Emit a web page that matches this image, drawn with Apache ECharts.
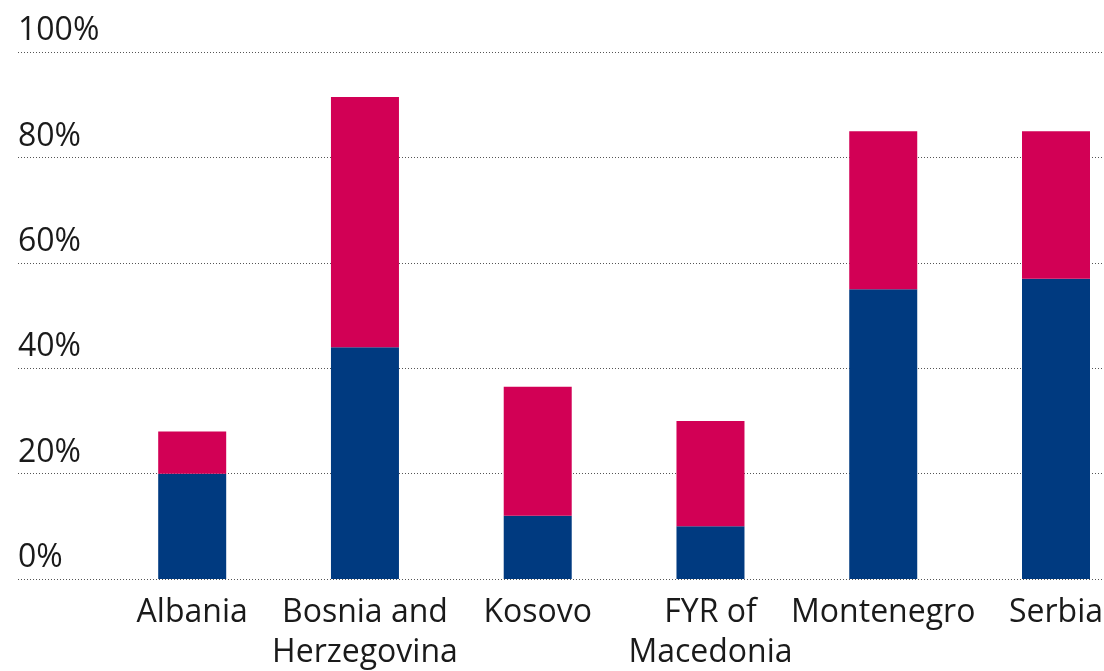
<!DOCTYPE html>
<html>
<head>
<meta charset="utf-8">
<script src="https://cdn.jsdelivr.net/npm/echarts@6/dist/echarts.min.js"></script>
<style>
html,body{margin:0;padding:0;background:#fff;}
#chart{width:1104px;height:671px;}
</style>
</head>
<body>
<div id="chart"></div>
<script>
var categories = ['Albania', 'Bosnia and\nHerzegovina', 'Kosovo', 'FYR of\nMacedonia', 'Montenegro', 'Serbia'];
var blueValues = [20, 44, 12, 10, 55, 57];
var redValues = [8, 47.5, 24.5, 20, 30, 28];
var yTicks = [0, 20, 40, 60, 80, 100];

var FONT = '"Open Sans", "Noto Sans", sans-serif';
var chart = echarts.init(document.getElementById('chart'), null, {renderer: 'canvas'});
chart.setOption({
  animation: false,
  backgroundColor: '#ffffff',
  grid: [
    {left: 18, right: 0, top: 52.3, bottom: 92, containLabel: false, outerBoundsMode: 'none'},
    {left: 192.2, right: 48, top: 52.3, bottom: 92, containLabel: false, outerBoundsMode: 'none'}
  ],
  xAxis: [
    {gridIndex: 0, type: 'value', show: false, min: 0, max: 1},
    {gridIndex: 1, type: 'category', data: categories, boundaryGap: false,
     axisLine: {show: false}, axisTick: {show: false}, splitLine: {show: false},
     axisLabel: {color: '#1a1a1a', fontFamily: FONT, fontSize: 32, lineHeight: 40, margin: 14, interval: 0}}
  ],
  yAxis: [
    {gridIndex: 0, type: 'value', min: yTicks[0], max: yTicks[yTicks.length - 1], interval: 20,
     axisLine: {show: false}, axisTick: {show: false},
     splitLine: {show: true, lineStyle: {color: '#555555', type: [1, 2], width: 1}},
     axisLabel: {inside: true, margin: 0, align: 'left', verticalAlign: 'bottom',
       color: '#1a1a1a', fontFamily: FONT, fontSize: 32, lineHeight: 32, padding: [0, 0, 5, 0],
       formatter: function (v) { return v + '%'; }}},
    {gridIndex: 1, type: 'value', min: 0, max: 100, show: false}
  ],
  series: [
    {type: 'bar', xAxisIndex: 1, yAxisIndex: 1, stack: 's', data: blueValues, barWidth: 68,
     itemStyle: {color: '#003a80'}},
    {type: 'bar', xAxisIndex: 1, yAxisIndex: 1, stack: 's', data: redValues, barWidth: 68,
     itemStyle: {color: '#d20055'}}
  ]
});
</script>
</body>
</html>
